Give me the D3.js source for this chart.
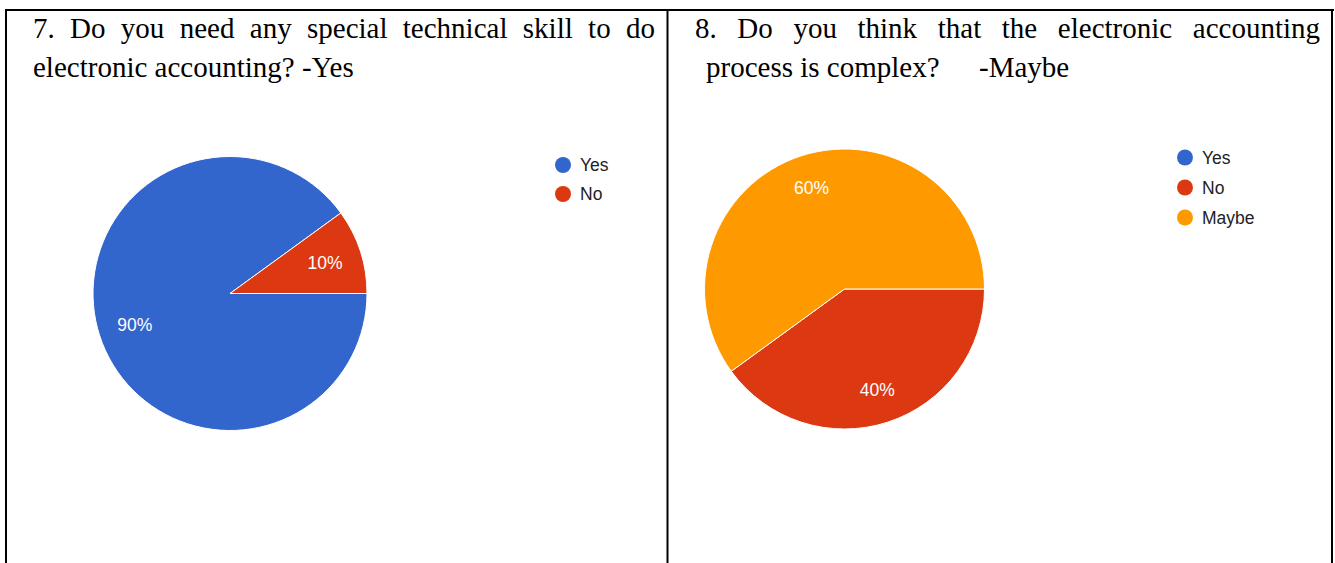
<!DOCTYPE html>
<html>
<head>
<meta charset="utf-8">
<script src="https://cdn.jsdelivr.net/npm/d3@7"></script>
<style>
  html, body { margin: 0; padding: 0; background: #fff; }
  svg { display: block; }
  .title { font-family: "Liberation Serif", "Times New Roman", serif; font-size: 29px; fill: #000; }
  .legend { font-family: "Liberation Sans", Arial, sans-serif; font-size: 17.5px; fill: #222; }
  .slice-label { font-family: "Liberation Sans", Arial, sans-serif; font-size: 17.5px; fill: #fff; }
</style>
</head>
<body>
<svg id="chart" width="1335" height="563"></svg>
<script>
// Question 7: special technical skill needed?
const q7Categories = ["Yes", "No"];
const q7Values = [90, 10];
const q7Title = ["7. Do you need any special technical skill to do", "electronic accounting? -Yes"];

// Question 8: is the process complex?
const q8Categories = ["Yes", "No", "Maybe"];
const q8Values = [0, 40, 60];
const q8Title = ["8. Do you think that the electronic accounting", "process is complex?", "-Maybe"];

const palette = ["#3366cc", "#dc3912", "#ff9900"];

const svg = d3.select("#chart");

// table frame
const frame = svg.append("g").attr("stroke", "#000").attr("stroke-width", 2);
frame.append("line").attr("x1", 5).attr("x2", 1334).attr("y1", 10).attr("y2", 10);
frame.append("line").attr("x1", 6).attr("x2", 6).attr("y1", 9).attr("y2", 563);
frame.append("line").attr("x1", 667.5).attr("x2", 667.5).attr("y1", 9).attr("y2", 563);
frame.append("line").attr("x1", 1332).attr("x2", 1332).attr("y1", 9).attr("y2", 563);

// justified line of words between x0 and x1
function justifiedLine(g, text, x0, x1, y) {
  const words = text.split(" ");
  const widths = words.map(w => {
    const t = g.append("text").attr("class", "title").text(w);
    const wd = t.node().getComputedTextLength();
    t.remove();
    return wd;
  });
  const total = d3.sum(widths);
  const gap = (x1 - x0 - total) / (words.length - 1);
  let x = x0;
  words.forEach((w, i) => {
    g.append("text").attr("class", "title").attr("x", x).attr("y", y).text(w);
    x += widths[i] + gap;
  });
}

const titles = svg.append("g");
justifiedLine(titles, q7Title[0], 33, 655, 38);
titles.append("text").attr("class", "title").attr("x", 33).attr("y", 77).text(q7Title[1]);
justifiedLine(titles, q8Title[0], 695, 1320, 38);
titles.append("text").attr("class", "title").attr("x", 706).attr("y", 77).text(q8Title[1]);
titles.append("text").attr("class", "title").attr("x", 979).attr("y", 77).text(q8Title[2]);

function drawPie(cx, cy, r, categories, values, labelRatio, legendX, legendY, legendStep) {
  const g = svg.append("g").attr("transform", `translate(${cx},${cy})`);
  const pie = d3.pie().sort(null).value(d => d)
    .startAngle(Math.PI / 2).endAngle(Math.PI / 2 + 2 * Math.PI);
  const arcs = pie(values);
  const arc = d3.arc().innerRadius(0).outerRadius(r);
  const labelArc = d3.arc().innerRadius(r * labelRatio).outerRadius(r * labelRatio);
  const color = d3.scaleOrdinal().domain(categories).range(palette);
  const total = d3.sum(values);

  g.selectAll("path.slice")
    .data(arcs.filter(d => d.value > 0))
    .join("path")
    .attr("class", "slice")
    .attr("d", arc)
    .attr("fill", d => color(categories[d.index]))
    .attr("stroke", "#fff")
    .attr("stroke-width", 1);

  g.selectAll("text.slice-label")
    .data(arcs.filter(d => d.value > 0))
    .join("text")
    .attr("class", "slice-label")
    .attr("transform", d => `translate(${labelArc.centroid(d)})`)
    .attr("text-anchor", "middle")
    .attr("dy", "0.35em")
    .text(d => Math.round(d.value / total * 100) + "%");

  const lg = svg.append("g").attr("transform", `translate(${legendX},${legendY})`);
  const items = lg.selectAll("g").data(categories).join("g")
    .attr("transform", (d, i) => `translate(0,${i * legendStep})`);
  items.append("circle").attr("r", 8).attr("fill", d => color(d));
  items.append("text").attr("class", "legend").attr("x", 17).attr("dy", "0.35em").text(d => d);
}

drawPie(230, 293.5, 137, q7Categories, q7Values, 0.73, 563, 165, 29);
drawPie(844.5, 289, 140, q8Categories, q8Values, 0.76, 1185, 157.5, 30);
</script>
</body>
</html>
